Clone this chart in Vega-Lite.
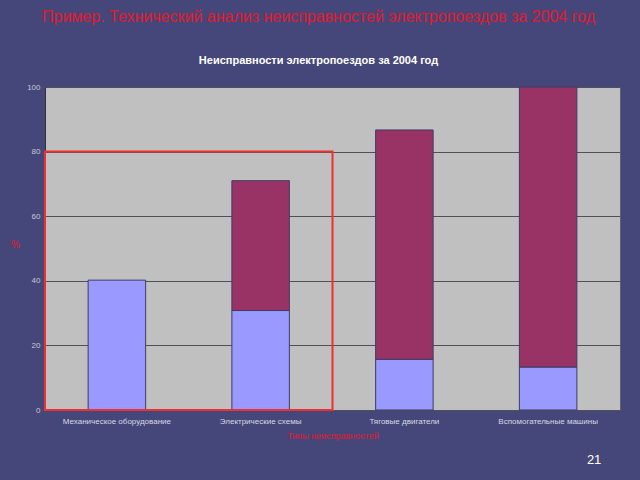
{
  "$schema": "https://vega.github.io/schema/vega-lite/v6.json",
  "width": 575,
  "height": 323,
  "autosize": {"type": "none"},
  "padding": {"left": 45, "top": 87, "right": 20, "bottom": 70},
  "background": "#45477a",
  "title": {
    "text": "Пример. Технический анализ неисправностей электропоездов за 2004 год",
    "subtitle": "Неисправности электропоездов за 2004 год",
    "anchor": "middle",
    "frame": "group",
    "font": "Liberation Sans",
    "fontSize": 16,
    "fontWeight": "normal",
    "color": "#e01a2e",
    "subtitleFont": "Liberation Sans",
    "subtitleFontSize": 11,
    "subtitleFontWeight": "bold",
    "subtitleColor": "#ffffff",
    "subtitlePadding": 30,
    "offset": 17,
    "dx": -14
  },
  "config": {
    "view": {"fill": "#c0c0c0", "stroke": "#606070", "strokeWidth": 1},
    "axis": {"labelFont": "Liberation Sans", "titleFont": "Liberation Sans"}
  },
  "datasets": {
    "bars": [
      {"cat": "Механическое оборудование", "series": "Доля", "value": 40.2},
      {"cat": "Электрические схемы", "series": "Доля", "value": 30.8},
      {"cat": "Электрические схемы", "series": "Накопленная", "value": 40.2},
      {"cat": "Тяговые двигатели", "series": "Доля", "value": 15.7},
      {"cat": "Тяговые двигатели", "series": "Накопленная", "value": 71.0},
      {"cat": "Вспомогательные машины", "series": "Доля", "value": 13.3},
      {"cat": "Вспомогательные машины", "series": "Накопленная", "value": 86.7}
    ],
    "box": [{"x0": 0, "x1": 2, "y0": 0, "y1": 80}],
    "page": [{"x": 3.82, "y": -15.5, "label": "21"}]
  },
  "layer": [
    {
      "data": {"name": "bars"},
      "mark": {"type": "bar", "stroke": "#3c3c64", "strokeWidth": 1},
      "encoding": {
        "x": {
          "field": "cat",
          "type": "nominal",
          "sort": null,
          "scale": {"paddingInner": 0.6, "paddingOuter": 0.3},
          "axis": {
            "title": "Типы неисправностей",
            "titleColor": "#e01a2e",
            "titleFontSize": 9,
            "titleFontWeight": "normal",
            "titlePadding": 6,
            "labelAngle": 0,
            "labelColor": "#d8d8e4",
            "labelFontSize": 8,
            "labelPadding": 7,
            "ticks": false,
            "domain": false
          }
        },
        "y": {
          "field": "value",
          "type": "quantitative",
          "stack": "zero",
          "scale": {"domain": [0, 100]},
          "axis": {
            "title": "%",
            "titleColor": "#e01a2e",
            "titleFontSize": 10,
            "titleFontWeight": "normal",
            "titleAngle": 0,
            "titleX": -30,
            "titleY": 162,
            "values": [0, 20, 40, 60, 80, 100],
            "labelColor": "#c8c8d8",
            "labelFontSize": 8,
            "tickColor": "#505060",
            "tickSize": 3,
            "domainColor": "#303040",
            "gridColor": "#505058",
            "gridWidth": 1
          }
        },
        "color": {
          "field": "series",
          "type": "nominal",
          "scale": {"domain": ["Доля", "Накопленная"], "range": ["#9999ff", "#993366"]},
          "legend": null
        },
        "order": {"field": "series", "sort": "ascending"}
      }
    },
    {
      "data": {"name": "box"},
      "mark": {"type": "rect", "fill": null, "fillOpacity": 0, "stroke": "#ee3030", "strokeWidth": 2},
      "encoding": {
        "x": {"field": "x0", "type": "quantitative", "scale": {"domain": [0, 4], "nice": false, "zero": false}, "axis": null},
        "x2": {"field": "x1"},
        "y": {"field": "y0", "type": "quantitative"},
        "y2": {"field": "y1"}
      }
    },
    {
      "data": {"name": "page"},
      "mark": {"type": "text", "font": "Liberation Sans", "fontSize": 13, "color": "#ffffff", "clip": false},
      "encoding": {
        "x": {"field": "x", "type": "quantitative", "scale": {"domain": [0, 4], "nice": false, "zero": false}, "axis": null},
        "y": {"field": "y", "type": "quantitative"},
        "text": {"field": "label"}
      }
    }
  ],
  "resolve": {"scale": {"x": "independent"}}
}
